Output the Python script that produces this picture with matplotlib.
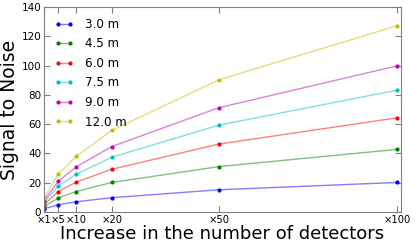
import matplotlib
matplotlib.use("Agg")
import matplotlib.pyplot as plt

# detector multipliers on the x axis
multipliers = [1, 5, 10, 20, 50, 100]
tick_labels = ["\u00d71", "\u00d75", "\u00d710", "\u00d720", "\u00d750", "\u00d7100"]

# signal to noise per distance
snr_3_0 = [2.2, 5.0, 7.0, 9.8, 15.2, 20.2]
snr_4_5 = [3.5, 9.7, 14.0, 20.2, 31.0, 42.8]
snr_6_0 = [5.0, 14.0, 20.4, 29.2, 46.4, 64.3]
snr_7_5 = [6.5, 17.7, 25.8, 37.4, 59.3, 83.2]
snr_9_0 = [7.8, 21.0, 30.8, 44.7, 71.2, 99.8]
snr_12_0 = [9.6, 25.8, 38.0, 55.7, 90.2, 127.2]

series = [snr_3_0, snr_4_5, snr_6_0, snr_7_5, snr_9_0, snr_12_0]
names = ["3.0 m", "4.5 m", "6.0 m", "7.5 m", "9.0 m", "12.0 m"]
colors = [(0, 0, 1), (0, 0.5, 0), (1, 0, 0), (0, 0.75, 0.75), (0.75, 0, 0.75), (0.75, 0.75, 0)]

fig = plt.figure(figsize=(4.15, 2.48), dpi=100)
ax = fig.add_axes([0.106, 0.145, 0.8595, 0.827])

for vals, name, c in zip(series, names, colors):
    ax.plot(multipliers, vals, color=c + (0.5,), lw=1, marker=".", ms=4,
            mfc=c, mec=c, label=name)

ax.set_xlim(1, 101)
ax.set_ylim(0, 140)
ax.set_xticks(multipliers)
ax.set_xticklabels(tick_labels)
ax.set_yticks(range(0, 141, 20))
ax.tick_params(direction="in", length=4, top=True, right=True, labelsize=7.5,
               color="0.5", pad=2)
ax.tick_params(axis="x", labelsize=7.2)
for s in ax.spines.values():
    s.set_color("0.5")
ax.set_xlabel("Increase in the number of detectors", fontsize=13, labelpad=0)
ax.set_ylabel("Signal to Noise", fontsize=13.5, labelpad=1.5)

ax.legend(loc="upper left", frameon=False, fontsize=8.6, numpoints=2,
          handlelength=1.6, handletextpad=0.9, labelspacing=0.55,
          borderaxespad=0.5)

fig.savefig("out.png", dpi=100)
